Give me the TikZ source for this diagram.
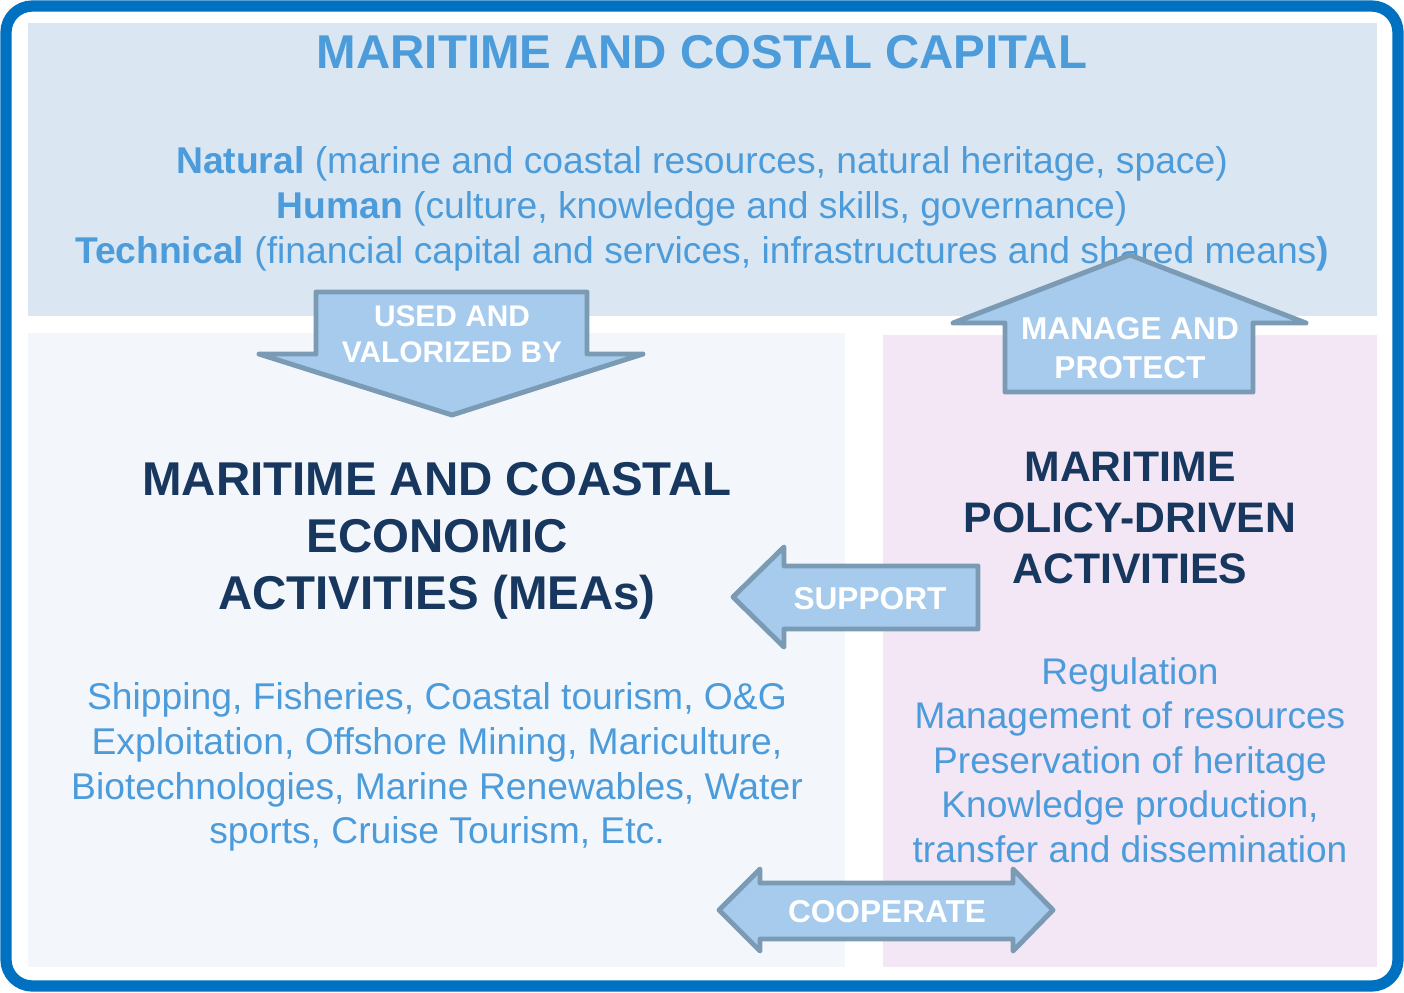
\documentclass[tikz,border=0pt]{standalone}
\usepackage{fontspec}
\setmainfont{Liberation Sans}
\usepackage{xcolor}
\usetikzlibrary{arrows.meta, positioning}

\definecolor{frameblue}{HTML}{0070C0}
\definecolor{capitalbg}{HTML}{DAE7F2}
\definecolor{meabg}{HTML}{F3F7FC}
\definecolor{policybg}{HTML}{F4E7F5}
\definecolor{arrowfill}{HTML}{A6CBEC}
\definecolor{arrowline}{HTML}{7B9AB4}
\definecolor{textblue}{HTML}{4C9BDA}
\definecolor{navy}{HTML}{17375E}

\tikzset{
    blockarrow/.style={fill=arrowfill, draw=arrowline, line width=2.8pt, line join=round},
    arrowlabel/.style={text=white, font=\fontsize{18}{22}\selectfont\bfseries, align=center, inner sep=0pt},
    heading/.style={text=navy, font=\fontsize{27}{32.6}\selectfont\bfseries, align=center, inner sep=0pt},
    bodytext/.style={text=textblue, font=\fontsize{21.2}{25.5}\selectfont, align=center, inner sep=0pt}
}

\begin{document}
\begin{tikzpicture}[x=0.02cm, y=-0.02cm]
    \useasboundingbox (0, 0) rectangle (1404, 992);
    % panels
    \fill[capitalbg] (28, 23) rectangle (1377, 316);
    \fill[meabg] (28, 333) rectangle (845, 967);
    \fill[policybg] (883, 335) rectangle (1377, 967);
    \draw[frameblue, line width=6.4pt, rounded corners=15pt] (6, 6) rectangle (1398, 986);

    % capital
    \node[bodytext, font=\fontsize{27}{30}\selectfont\bfseries] (capital) at (702, 52) {MARITIME AND COSTAL CAPITAL};
    \node[bodytext] (kinds) at (702, 209) {\textbf{Natural} (marine and coastal resources, natural heritage, space)\\
        \textbf{Human} (culture, knowledge and skills, governance)\\
        \textbf{Technical} (financial capital and services, infrastructures and shared means\textbf{)}};

    % economic activities
    \node[heading] (mea) at (437, 541) {MARITIME AND COASTAL\\ECONOMIC\\ACTIVITIES (MEAs)};
    \node[bodytext] (sectors) at (437, 767) {Shipping, Fisheries, Coastal tourism, O\&G\\
        Exploitation, Offshore Mining, Mariculture,\\
        Biotechnologies, Marine Renewables, Water\\
        sports, Cruise Tourism, Etc.};

    % policy-driven activities
    \node[heading, font=\fontsize{24.3}{29.2}\selectfont\bfseries] (policy) at (1130, 518) {MARITIME\\POLICY-DRIVEN\\ACTIVITIES};
    \node[bodytext, font=\fontsize{21.1}{25.4}\selectfont] (tasks) at (1130, 760) {Regulation\\Management of resources\\Preservation of heritage\\
        Knowledge production,\\transfer and dissemination};

    % block arrows
    \draw[blockarrow] (316, 292) -- (587, 292) -- (587, 354) -- (643, 354) -- (452, 415)
        -- (259, 354) -- (316, 354) -- cycle;
    \node[arrowlabel, font=\fontsize{17}{20.5}\selectfont\bfseries] (used) at (452, 334) {USED AND\\VALORIZED BY};
    \draw[blockarrow] (1005, 392) -- (1005, 323) -- (953, 323) -- (1130, 255) -- (1306, 323)
        -- (1253, 323) -- (1253, 392) -- cycle;
    \node[arrowlabel] (manage) at (1130, 348) {MANAGE AND\\PROTECT};
    \draw[blockarrow] (978, 566) -- (784, 566) -- (784, 547) -- (733, 597) -- (784, 647)
        -- (784, 629) -- (978, 629) -- cycle;
    \node[arrowlabel] (support) at (870, 599) {SUPPORT};
    \draw[blockarrow] (760, 883) -- (1013, 883) -- (1013, 869) -- (1053, 910) -- (1013, 951)
        -- (1013, 939) -- (760, 939) -- (760, 951) -- (719, 910) -- (760, 869) -- cycle;
    \node[arrowlabel] (cooperate) at (887, 912) {COOPERATE};
\end{tikzpicture}
\end{document}
